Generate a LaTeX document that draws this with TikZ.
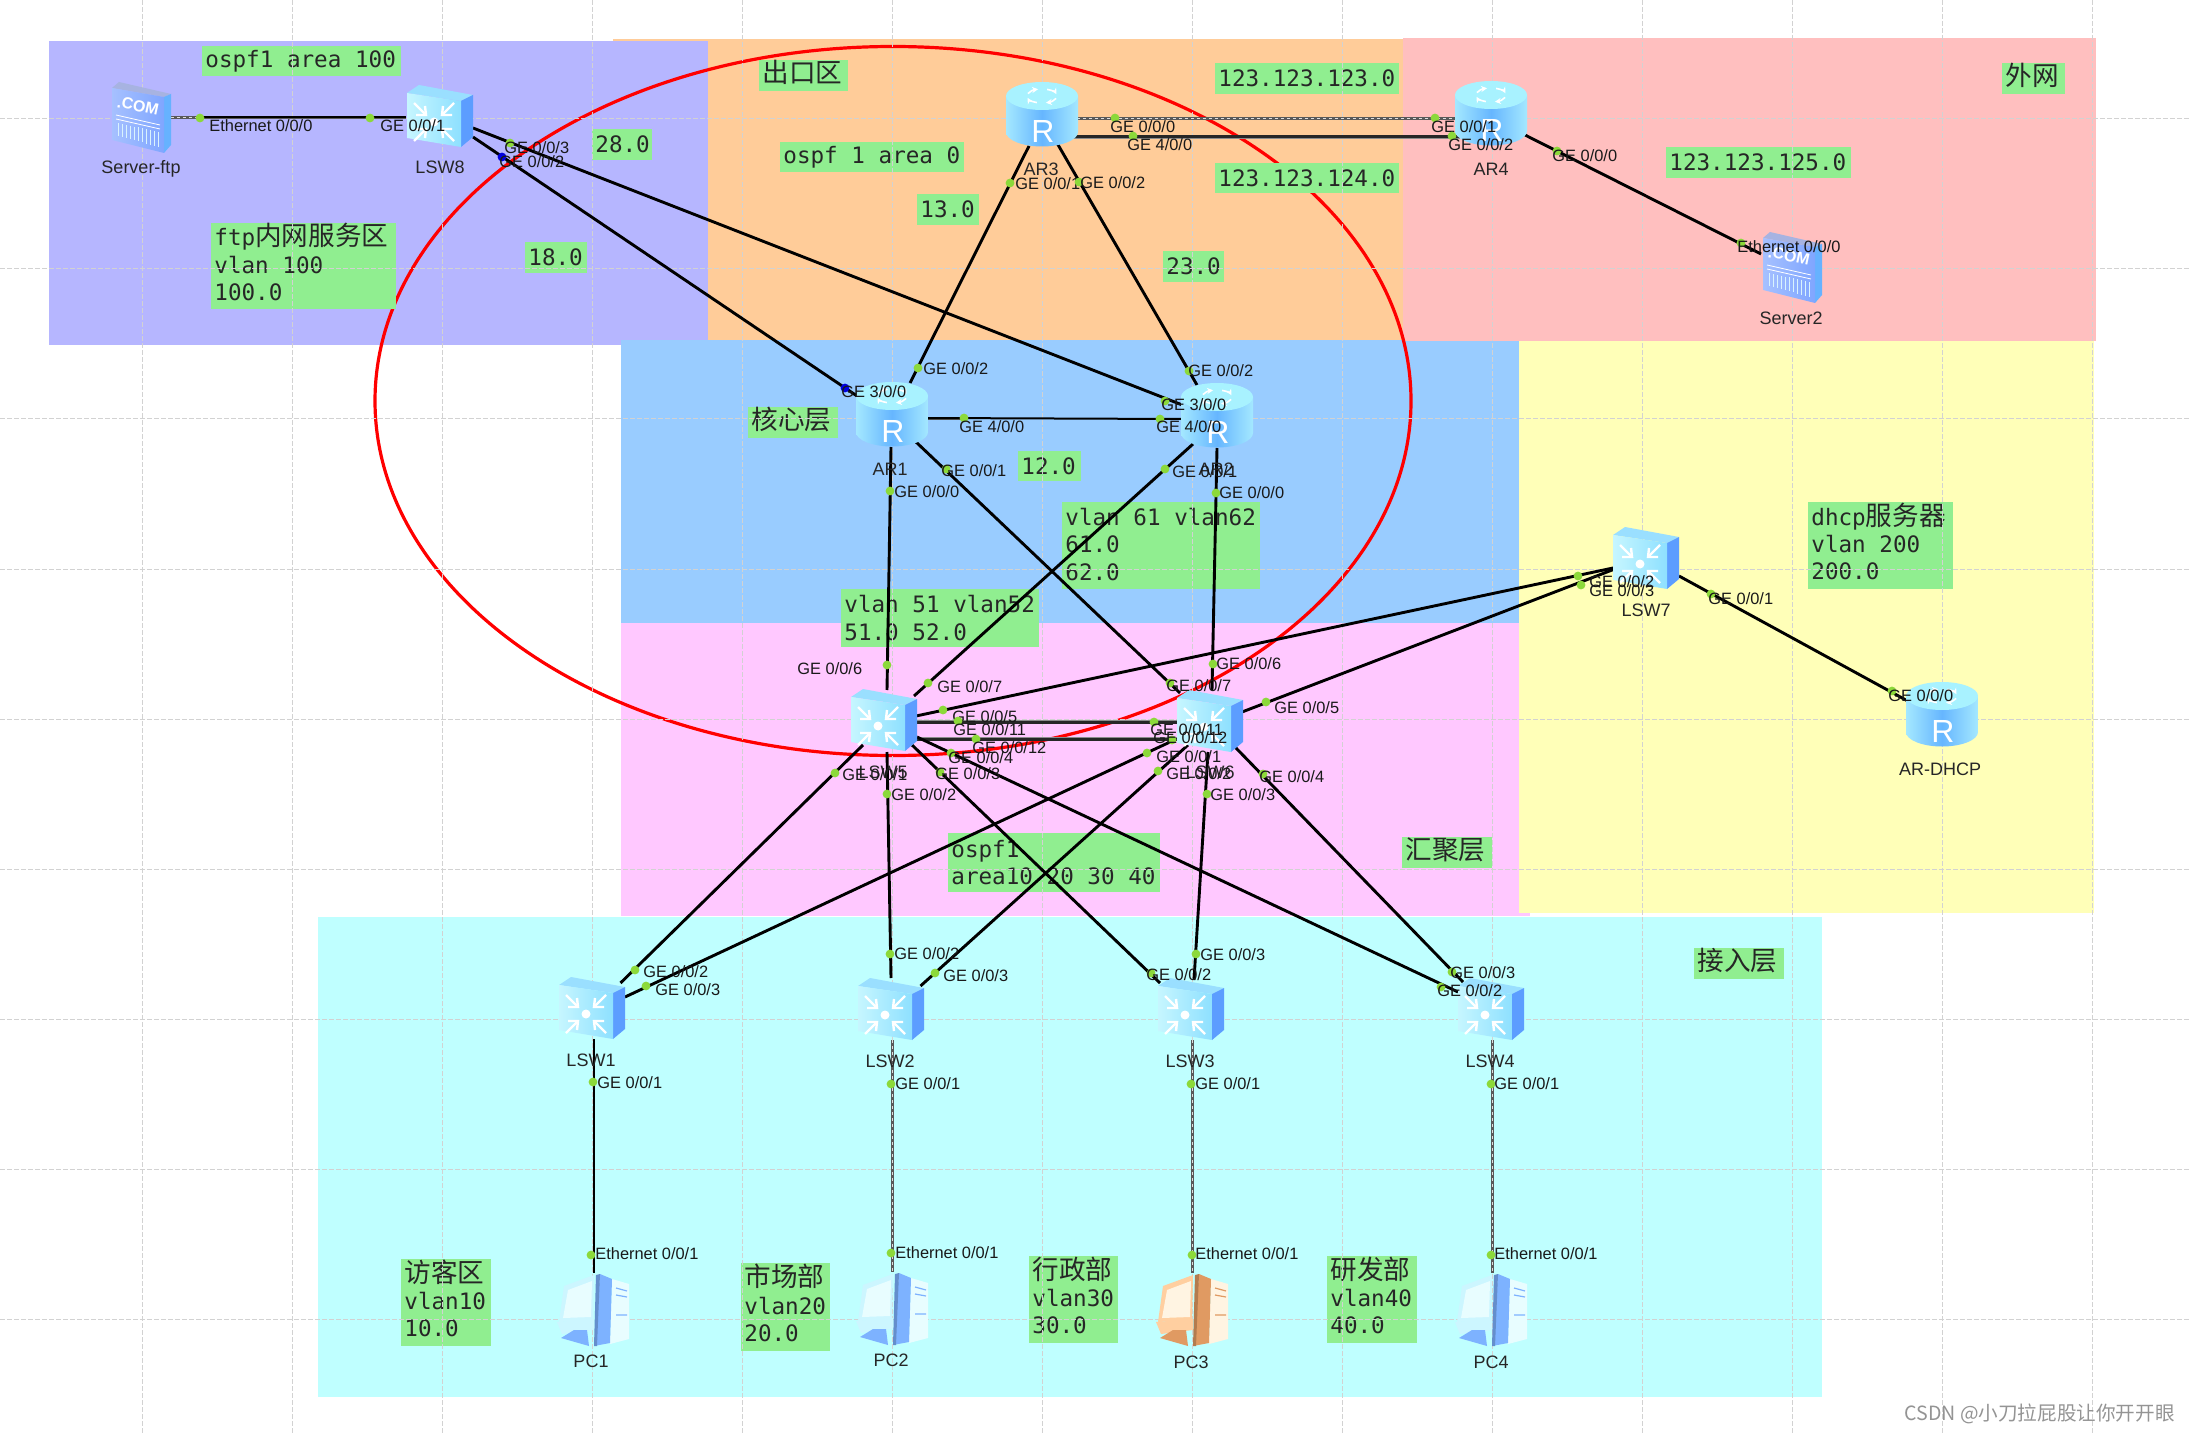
\documentclass[tikz,border=0pt]{standalone}
\usepackage{fontspec}
\usetikzlibrary{calc,arrows.meta}
\setmainfont{Liberation Sans}
\newfontfamily\cjk{Noto Sans CJK SC}
\newfontfamily\monof{DejaVu Sans Mono}
\definecolor{zpurple}{HTML}{B6B6FF}
\definecolor{zorange}{HTML}{FFCC99}
\definecolor{zrose}{HTML}{FFBFBF}
\definecolor{zblue}{HTML}{99CCFF}
\definecolor{zyellow}{HTML}{FFFFB8}
\definecolor{zmagenta}{HTML}{FFC8FF}
\definecolor{zcyan}{HTML}{BFFFFF}
\definecolor{glab}{HTML}{90EE90}
\definecolor{gridc}{HTML}{D2D2D2}
\definecolor{portg}{HTML}{8CD93A}
\definecolor{portb}{HTML}{0000E0}
\definecolor{rtop}{HTML}{A8F2FF}
\definecolor{rside}{HTML}{A4E8FF}
\definecolor{rmid}{HTML}{66B6FF}
\definecolor{swtop}{HTML}{9ADFFF}
\definecolor{swright}{HTML}{5C9DFF}
\definecolor{swa}{HTML}{C6F6FF}
\definecolor{swb}{HTML}{8EE0FF}
\definecolor{pcblue}{HTML}{7DB2FF}
\definecolor{pcpale}{HTML}{CCF6FF}
\definecolor{pcwhite}{HTML}{E8FDFF}
\definecolor{pcor}{HTML}{E09A62}
\definecolor{pcorp}{HTML}{FFCFA0}
\definecolor{pcorw}{HTML}{FFF4E2}
\newcommand\zh[1]{{\fontsize{13.3}{13.6}\selectfont\cjk #1}}
\newcommand\glfont{\monof\fontsize{11.3}{13.6}\selectfont\lineskiplimit=-30pt\relax}
\newcommand\zone[6]{\node[zonebox,fill=#6,minimum width=#4*0.5pt-#2*0.5pt,minimum height=#5*0.5pt-#3*0.5pt,anchor=north west] (#1) at (#2,#3) {};}
\newcommand\glb[7][0]{\node[glbox,minimum width=#5*0.5pt-#3*0.5pt,minimum height=#6*0.5pt-#4*0.5pt,anchor=north west] (#2-b) at (#3,#4) {};
  \node[gltext] (#2) at ({#3+3},{(#4+#6)/2+#1}) {#7};}
\newcommand\port[7][portg]{\node[portdot,fill=#1] (#2-d) at (#3,#4) {};\node[porttext] (#2) at (#5,#6) {#7};}
\newcommand\devlab[4]{\node[devtext] (#1) at (#2,#3) {#4};}
\newcommand\GE[1]{GE #1}
\newcommand\ET[1]{Ethernet #1}
\tikzset{
  x=0.5pt,y=-0.5pt,
  zonebox/.style={draw=none,inner sep=0pt,outer sep=0pt},
  glbox/.style={draw=none,fill=glab,inner sep=0pt,outer sep=0pt},
  gltext/.style={anchor=west,inner sep=0pt,align=left,text=black!85,font=\glfont},
  portdot/.style={circle,draw=none,inner sep=0pt,minimum size=4.4pt},
  porttext/.style={anchor=west,inner sep=0pt,text=black!90,font=\fontsize{8.2}{9}\selectfont},
  devtext/.style={anchor=center,inner sep=0pt,text=black!85,font=\fontsize{9}{10}\selectfont},
  devnode/.style={coordinate},
  link/.style={draw=black,line width=1.45pt},
  heavylink/.style={draw=black!85,line width=1.5pt,preaction={draw=black!45,line width=2.1pt}},
  sercab/.style={draw=white!75!gray,line width=.5pt,dash pattern=on 1.5pt off 1.5pt,preaction={draw=black!65,line width=1.5pt,solid}},
  gridline/.style={draw=gridc,line width=.5pt,dash pattern=on 2.5pt off 1pt},
  pics/router/.style={code={
    \path[left color=rside,right color=rside,middle color=rmid]
      (-36,-18) -- (-36,18) arc[x radius=36,y radius=14.5,start angle=180,end angle=0] -- (36,-18) -- cycle;
    \fill[rtop] (0,-18) ellipse[x radius=36,y radius=14];
    \foreach \a in {20,110,200,290}{
      \draw[white,line width=.8pt,-{Stealth[length=3pt,width=3pt]}] (\a:15 and 7) ++(0,-18) arc[x radius=15,y radius=7,start angle=\a,end angle=\a+55];}
    \node[text=white,inner sep=0pt,font=\fontsize{16}{17}\selectfont] (-r) at (1,17) {R};
  }},
  pics/lswitch/.style={code={
    \fill[swtop] (-33,-23) -- (-21,-31) -- (33,-21) -- (21,-15) -- cycle;
    \fill[swright] (21,-15) -- (33,-21) -- (33,21) -- (21,31) -- cycle;
    \path[left color=swa,right color=swb] (-33,-23) -- (21,-15) -- (21,31) -- (-33,22) -- cycle;
    \fill[white] (-6,6) circle[radius=4.5];
    \foreach \dx/\dy in {-1/-1,1/-1,-1/1,1/1}{
      \draw[white,line width=1.2pt] ({-6+\dx*8},{6+\dy*7}) -- ({-6+\dx*20},{6+\dy*19});
      \draw[white,line width=1.2pt] ({-6+\dx*9},{6+\dy*16}) -- ({-6+\dx*8},{6+\dy*7}) -- ({-6+\dx*18},{6+\dy*7});}
  }},
  pics/server/.style={code={
    \fill[cyan!35!blue!35!white] (-29,-30) -- (-22,-36) -- (30,-24) -- (23,-21) -- cycle;
    \fill[blue!50!cyan!60!white] (23,-21) -- (30,-24) -- (30,27) -- (23,35) -- cycle;
    \path[left color=cyan!30!blue!35!white,right color=cyan!30!blue!50!white] (-29,-30) -- (23,-21) -- (23,35) -- (-29,22) -- cycle;
    \node[text=white,inner sep=0pt,rotate=-12,font=\bfseries\fontsize{8}{9}\selectfont] (-t) at (-3,-12) {.COM};
    \draw[white,line width=.4pt] (-25,-3) -- (19,7) (-25,1) -- (19,11);
    \foreach \xx in {-23,-19,...,17}{\draw[white!85!cyan,line width=.35pt] (\xx,{5+(\xx+23)*.22}) -- (\xx,{18+(\xx+23)*.27});}
  }},
  pics/pcicon/.style n args={3}{code={
    \fill[#3] (20,-31) -- (37,-26) -- (37,29) -- (18,34) -- cycle;
    \fill[#1] (8,-36) -- (20,-31) -- (18,33) -- (2,36) -- cycle;
    \fill[#2] (-28,-24) -- (2,-35) -- (1,10) -- (-33,12) -- cycle;
    \fill[#3] (-24,-20) -- (0,-29) -- (-1,7) -- (-29,8) -- cycle;
    \fill[#2] (-35,12) -- (2,9) -- (2,20) -- (-30,24) -- cycle;
    \fill[#1] (-31,28) -- (-18,20) -- (-5,20) -- (-3,36) -- cycle;
    \fill[#1!80!black] (4,-35) -- (8,-36) -- (5,36) -- (2,36) -- cycle;
    \draw[#1,line width=.6pt] (24,-22) -- (35,-19) (24,-15) -- (35,-13) (24,5) -- (35,5);
  }},
}
\begin{document}
\begin{tikzpicture}
\useasboundingbox (0,0) rectangle (2189,1433);
\fill[white] (0,0) rectangle (2189,1433);
% zones
\zone{zcy}{318}{917}{1822}{1397}{zcyan}
\zone{zor}{613}{39}{1404}{345}{zorange}
\zone{zpu}{49}{41}{708}{345}{zpurple}
\zone{zmg}{621}{623}{1530}{916}{zmagenta}
\zone{zbl}{621}{340}{1519}{623}{zblue}
\zone{zye}{1519}{341}{2094}{913}{zyellow}
\zone{zro}{1403}{38}{2096}{341}{zrose}
% red ellipse
\draw[red,line width=1.6pt] (893,401) ellipse[x radius=518,y radius=354.5];
% green labels
\glb{g1}{202}{46}{401}{76}{ospf1 area 100}
\glb[-4]{g2}{211}{223}{396}{309}{ftp\zh{内网服务区}\\vlan 100\\100.0}
\glb{g3}{592}{129}{652}{160}{28.0}
\glb{g4}{525}{242}{587}{273}{18.0}
\glb[-3]{g5}{759}{60}{848}{91}{\zh{出口区}}
\glb{g6}{780}{142}{964}{172}{ospf 1 area 0}
\glb{g7}{917}{194}{979}{225}{13.0}
\glb{g8}{1163}{251}{1224}{282}{23.0}
\glb{g9}{1215}{63}{1399}{94}{123.123.123.0}
\glb{g10}{1215}{163}{1399}{193}{123.123.124.0}
\glb[-3]{g11}{2002}{63}{2065}{94}{\zh{外网}}
\glb{g12}{1666}{147}{1851}{178}{123.123.125.0}
\glb[-3]{g13}{748}{407}{838}{438}{\zh{核心层}}
\glb{g14}{1018}{451}{1081}{481}{12.0}
\glb[-1]{g15}{1062}{502}{1260}{589}{vlan 61 vlan62\\61.0\\62.0}
\glb{g16}{841}{589}{1039}{647}{vlan 51 vlan52\\51.0 52.0}
\glb{g17}{948}{833}{1160}{892}{ospf1\\area10 20 30 40}
\glb[-3]{g18}{1402}{837}{1492}{868}{\zh{汇聚层}}
\glb[-4]{g19}{1808}{502}{1953}{589}{dhcp\zh{服务器}\\vlan 200\\200.0}
\glb[-3]{g20}{1694}{948}{1784}{979}{\zh{接入层}}
\glb[-4]{g21}{401}{1259}{491}{1346}{\zh{访客区}\\vlan10\\10.0}
\glb[-4]{g22}{741}{1263}{830}{1351}{\zh{市场部}\\vlan20\\20.0}
\glb[-4]{g23}{1029}{1256}{1118}{1343}{\zh{行政部}\\vlan30\\30.0}
\glb[-4]{g24}{1327}{1256}{1417}{1343}{\zh{研发部}\\vlan40\\40.0}
% grid
\foreach \xx in {142,292,...,2092}{\draw[gridline] (\xx,0) -- (\xx,1433);}
\foreach \yy in {119,269,...,1319}{\draw[gridline] (0,\yy) -- (2189,\yy);}
% device anchors
\node[devnode] (srv) at (141,118) {};
\node[devnode] (lsw8) at (440,116) {};
\node[devnode] (ar3) at (1042,114) {};
\node[devnode] (ar4) at (1491,113) {};
\node[devnode] (srv2) at (1792,268) {};
\node[devnode] (ar1) at (892,414) {};
\node[devnode] (ar2) at (1217,415) {};
\node[devnode] (lsw5) at (884,720) {};
\node[devnode] (lsw6) at (1210,721) {};
\node[devnode] (lsw7) at (1646,558) {};
\node[devnode] (dhcp) at (1942,714) {};
\node[devnode] (lsw1) at (592,1008) {};
\node[devnode] (lsw2) at (891,1009) {};
\node[devnode] (lsw3) at (1191,1009) {};
\node[devnode] (lsw4) at (1491,1009) {};
\node[devnode] (pc1) at (592,1310) {};
\node[devnode] (pc2) at (891,1309) {};
\node[devnode] (pc3) at (1191,1310) {};
\node[devnode] (pc4) at (1490,1310) {};
% connectors
\draw[sercab] ($(srv)+(30,0)$) -- ($(lsw8)+(-34,2)$);
\draw[draw=black,line width=.7pt] ($(srv)+(60,-1)$) -- ($(lsw8)+(-34,1)$);
\draw[link] ($(lsw8)+(33,12)$) -- ($(ar2)+(-27,-7)$);
\draw[link] ($(lsw8)+(33,21)$) -- ($(ar1)+(-32,-16)$);
\draw[link] ($(ar3)+(-13,32)$) -- ($(ar1)+(18,-31)$);
\draw[link] ($(ar3)+(15,29)$) -- ($(ar2)+(-20,-30)$);
\draw[sercab] ($(ar3)+(35,5)$) -- ($(ar4)+(-35,6)$);
\draw[heavylink] ($(ar3)+(31,23)$) -- ($(ar4)+(-31,24)$);
\draw[link] ($(ar4)+(34,22)$) -- ($(srv2)+(-31,-14)$);
\draw[sercab] ($(ar1)+(35,5)$) -- ($(ar1)+(75,5)$);
\draw[link,line width=1pt] ($(ar1)+(35,4)$) -- ($(ar2)+(-36,4)$);
\draw[link] ($(ar1)+(-1,33)$) -- ($(lsw5)+(3,-30)$);
\draw[link] ($(ar1)+(24,28)$) -- ($(lsw6)+(-30,-28)$);
\draw[link] ($(ar2)+(-24,29)$) -- ($(lsw5)+(30,-24)$);
\draw[link] ($(ar2)+(0,33)$) -- ($(lsw6)+(2,-31)$);
\draw[heavylink] ($(lsw5)+(33,2)$) -- ($(lsw6)+(-33,1)$);
\draw[heavylink] ($(lsw5)+(33,19)$) -- ($(lsw6)+(-33,18)$);
\draw[link] ($(lsw5)+(32,-4)$) -- ($(lsw7)+(-33,10)$);
\draw[link] ($(lsw6)+(32,-9)$) -- ($(lsw7)+(-26,9)$);
\draw[link] ($(lsw7)+(33,18)$) -- ($(dhcp)+(-27,-9)$);
\draw[link] ($(lsw5)+(-21,25)$) -- ($(lsw1)+(28.5,-25)$);
\draw[link] ($(lsw5)+(3,32)$) -- ($(lsw2)+(0,-31)$);
\draw[link] ($(lsw5)+(28,25)$) -- ($(lsw3)+(-31,-26)$);
\draw[link] ($(lsw5)+(33,17)$) -- ($(lsw4)+(-33,-17)$);
\draw[link] ($(lsw6)+(-40,21)$) -- ($(lsw1)+(33,-11)$);
\draw[link] ($(lsw6)+(-22,24)$) -- ($(lsw2)+(29.5,-23)$);
\draw[link] ($(lsw6)+(-2,31)$) -- ($(lsw3)+(3,-29)$);
\draw[link] ($(lsw6)+(25,26)$) -- ($(lsw4)+(-28,-27)$);
\draw[draw=black,line width=.9pt] ($(lsw1)+(2,31)$) -- ($(pc1)+(2,-37)$);
\draw[sercab] ($(lsw2)+(1.5,31)$) -- ($(pc2)+(1.5,-37)$);
\draw[sercab] ($(lsw3)+(1.5,31)$) -- ($(pc3)+(1.5,-37)$);
\draw[sercab] ($(lsw4)+(1,31)$) -- ($(pc4)+(2,-37)$);
% icons
\pic (srvi) at (srv) {server};
\pic (srv2i) at (srv2) {server};
\pic (lsw8i) at (lsw8) {lswitch};
\pic (lsw5i) at (lsw5) {lswitch};
\pic (lsw6i) at (lsw6) {lswitch};
\pic (lsw7i) at (lsw7) {lswitch};
\pic (lsw1i) at (lsw1) {lswitch};
\pic (lsw2i) at (lsw2) {lswitch};
\pic (lsw3i) at (lsw3) {lswitch};
\pic (lsw4i) at (lsw4) {lswitch};
\pic (ar1i) at (ar1) {router};
\pic (ar2i) at (ar2) {router};
\pic (ar3i) at (ar3) {router};
\pic (ar4i) at (ar4) {router};
\pic (dhcpi) at (dhcp) {router};
\pic (pc1i) at (pc1) {pcicon={pcblue}{pcpale}{pcwhite}};
\pic (pc2i) at (pc2) {pcicon={pcblue}{pcpale}{pcwhite}};
\pic (pc3i) at (pc3) {pcicon={pcor}{pcorp}{pcorw}};
\pic (pc4i) at (pc4) {pcicon={pcblue}{pcpale}{pcwhite}};
% device labels
\devlab{lsrv}{141}{169}{Server-ftp}
\devlab{llsw8}{440}{167}{LSW8}
\devlab{lar3}{1041}{169}{AR3}
\devlab{lar4}{1491}{169}{AR4}
\devlab{lsrv2}{1791}{318}{Server2}
\devlab{lar1}{890}{469}{AR1}
\devlab{lar2}{1216}{469}{AR2}
\devlab{llsw5}{883}{772}{LSW5}
\devlab{llsw6}{1210}{772}{LSW6}
\devlab{llsw7}{1646}{610}{LSW7}
\devlab{ldhcp}{1940}{769}{AR-DHCP}
\devlab{llsw1}{591}{1060}{LSW1}
\devlab{llsw2}{890}{1061}{LSW2}
\devlab{llsw3}{1190}{1061}{LSW3}
\devlab{llsw4}{1490}{1061}{LSW4}
\devlab{lpc1}{591}{1361}{PC1}
\devlab{lpc2}{891}{1360}{PC2}
\devlab{lpc3}{1191}{1362}{PC3}
\devlab{lpc4}{1491}{1362}{PC4}
% ports
\port{s1}{200}{118}{209}{126}{\ET{0/0/0}}
\port{l8a}{370}{118}{380}{126}{\GE{0/0/1}}
\port{l8c}{510}{143}{504}{148}{\GE{0/0/3}}
\port[portb]{l8b}{502}{157}{499}{162}{\GE{0/0/2}}
\port{a3a}{1115}{118}{1110}{127}{\GE{0/0/0}}
\port{a3b}{1133}{136}{1127}{145}{\GE{4/0/0}}
\port{a4a}{1435}{118}{1431}{127}{\GE{0/0/1}}
\port{a4b}{1452}{136}{1448}{145}{\GE{0/0/2}}
\port{a3c}{1010}{183}{1015}{184}{\GE{0/0/1}}
\port{a3d}{1079}{182}{1080}{183}{\GE{0/0/2}}
\port{a4c}{1557}{151}{1552}{156}{\GE{0/0/0}}
\port{s2}{1741}{243}{1737}{247}{\ET{0/0/0}}
\port{a1a}{918}{368}{923}{369}{\GE{0/0/2}}
\port[portb]{a1b}{845}{388}{841}{392}{\GE{3/0/0}}
\port{a1c}{964}{418}{959}{427}{\GE{4/0/0}}
\port{a1d}{946}{469}{941}{471}{\GE{0/0/1}}
\port{a1e}{890}{491}{894}{492}{\GE{0/0/0}}
\port{a2a}{1189}{371}{1188}{371}{\GE{0/0/2}}
\port{a2b}{1165}{401}{1161}{405}{\GE{3/0/0}}
\port{a2c}{1160}{419}{1156}{427}{\GE{4/0/0}}
\port{a2d}{1165}{469}{1172}{472}{\GE{0/0/1}}
\port{a2e}{1216}{493}{1219}{493}{\GE{0/0/0}}
\port{l5f}{887}{665}{797}{669}{\GE{0/0/6}}
\port{l5g}{928}{683}{937}{687}{\GE{0/0/7}}
\port{l5e}{943}{710}{952}{717}{\GE{0/0/5}}
\port{l5k}{958}{721}{953}{730}{\GE{0/0/11}}
\port{l5m}{976}{739}{972}{748}{\GE{0/0/12}}
\port{l5d}{951}{753}{948}{758}{\GE{0/0/4}}
\port{l5c}{940}{772}{935}{774}{\GE{0/0/3}}
\port{l5b}{887}{794}{891}{795}{\GE{0/0/2}}
\port{l5a}{835}{773}{842}{775}{\GE{0/0/1}}
\port{l6f}{1213}{664}{1216}{664}{\GE{0/0/6}}
\port{l6g}{1170}{683}{1166}{686}{\GE{0/0/7}}
\port{l6e}{1266}{702}{1274}{708}{\GE{0/0/5}}
\port{l6k}{1154}{722}{1150}{730}{\GE{0/0/11}}
\port{l6m}{1172}{740}{1153}{738}{\GE{0/0/12}}
\port{l6a}{1147}{753}{1156}{757}{\GE{0/0/1}}
\port{l6b}{1158}{771}{1166}{774}{\GE{0/0/2}}
\port{l6d}{1263}{774}{1259}{777}{\GE{0/0/4}}
\port{l6c}{1207}{794}{1210}{795}{\GE{0/0/3}}
\port{l7b}{1578}{576}{1589}{582}{\GE{0/0/2}}
\port{l7c}{1581}{585}{1589}{591}{\GE{0/0/3}}
\port{l7a}{1711}{594}{1708}{599}{\GE{0/0/1}}
\port{d1}{1892}{691}{1888}{696}{\GE{0/0/0}}
\port{l1b}{635}{970}{643}{972}{\GE{0/0/2}}
\port{l1c}{646}{986}{655}{990}{\GE{0/0/3}}
\port{l1a}{593}{1082}{597}{1083}{\GE{0/0/1}}
\port{l2b}{890}{954}{894}{954}{\GE{0/0/2}}
\port{l2c}{935}{973}{943}{976}{\GE{0/0/3}}
\port{l2a}{891}{1084}{895}{1084}{\GE{0/0/1}}
\port{l3b}{1151}{973}{1146}{975}{\GE{0/0/2}}
\port{l3c}{1196}{954}{1200}{955}{\GE{0/0/3}}
\port{l3a}{1191}{1084}{1195}{1084}{\GE{0/0/1}}
\port{l4c}{1452}{972}{1450}{973}{\GE{0/0/3}}
\port{l4b}{1441}{987}{1437}{991}{\GE{0/0/2}}
\port{l4a}{1491}{1084}{1494}{1084}{\GE{0/0/1}}
\port{p1}{591}{1255}{595}{1254}{\ET{0/0/1}}
\port{p2}{891}{1253}{895}{1253}{\ET{0/0/1}}
\port{p3}{1192}{1255}{1195}{1254}{\ET{0/0/1}}
\port{p4}{1491}{1255}{1494}{1254}{\ET{0/0/1}}
% watermark
\node[anchor=east,inner sep=0pt,text=black!42,font=\cjk\fontsize{9.8}{11}\selectfont] (wm) at (2175,1414) {CSDN @小刀拉屁股让你开开眼};
\end{tikzpicture}
\end{document}
